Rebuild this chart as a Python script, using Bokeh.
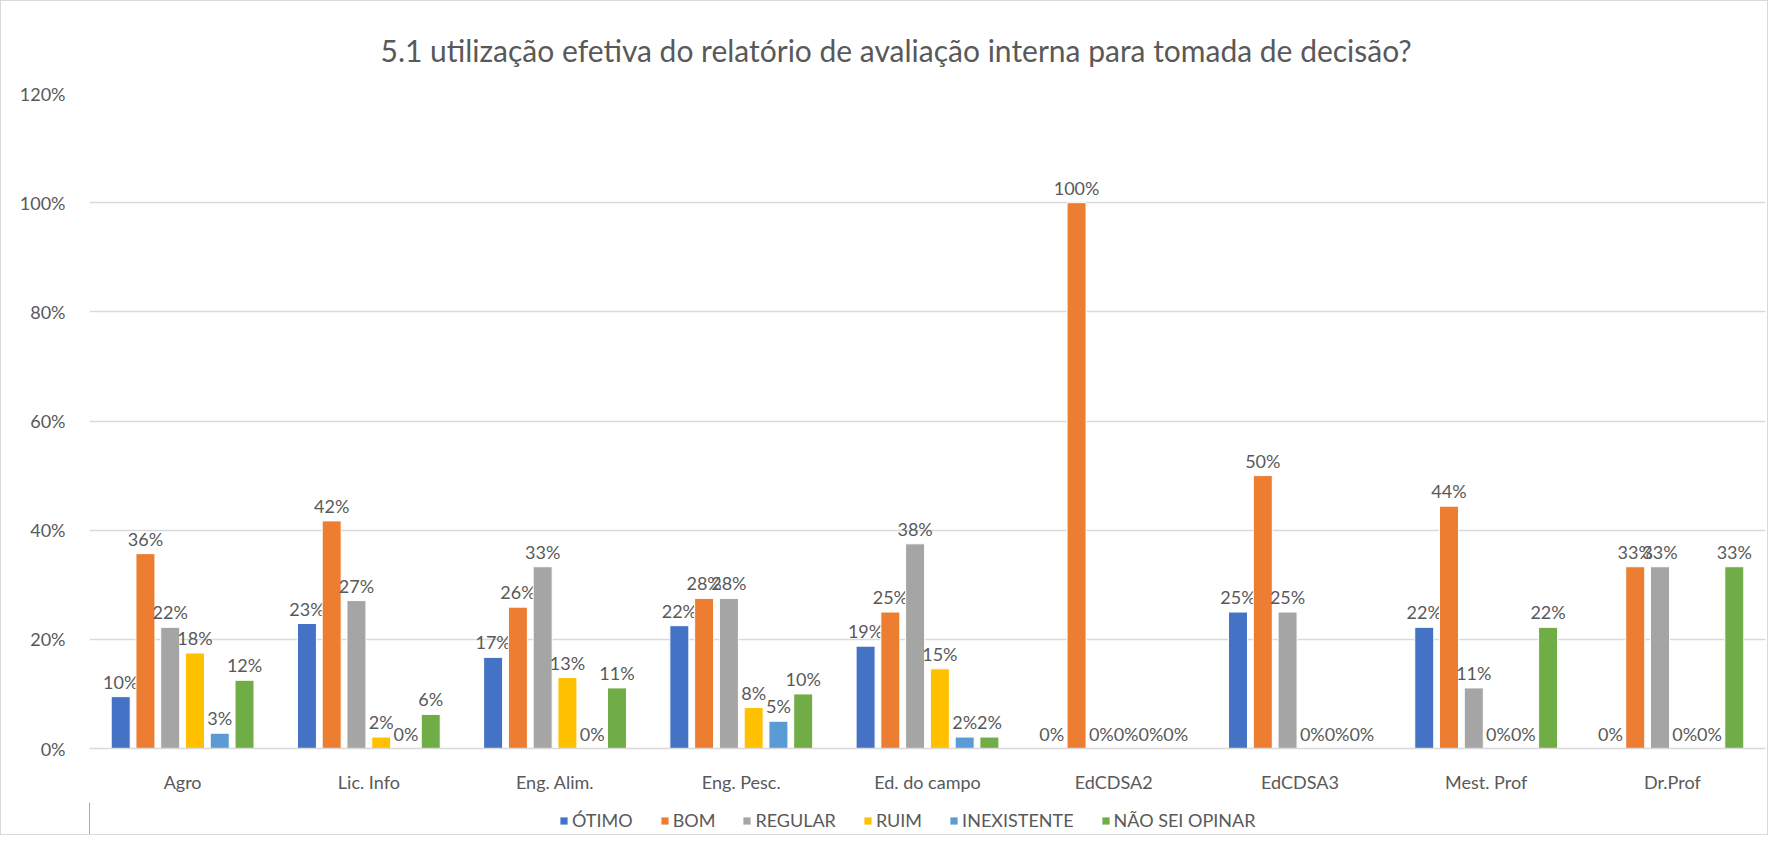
from bokeh.plotting import figure
from bokeh.layouts import column
from bokeh.models import (ColumnDataSource, FactorRange, Range1d, Legend, LegendItem,
                          NumeralTickFormatter, FixedTicker)
from bokeh.transform import dodge
from bokeh.core.properties import value
from bokeh.embed import file_html
from bokeh.resources import INLINE

title = "5.1 utilização efetiva do relatório de avaliação interna para tomada de decisão?"
categories = ["Agro", "Lic. Info", "Eng. Alim.", "Eng. Pesc.", "Ed. do campo",
              "EdCDSA2", "EdCDSA3", "Mest. Prof", "Dr.Prof"]
series = ["ÓTIMO", "BOM", "REGULAR", "RUIM", "INEXISTENTE", "NÃO SEI OPINAR"]
otimo = [0.095, 0.229, 0.167, 0.225, 0.1875, 0.0, 0.25, 0.222, 0.0]
bom = [0.357, 0.417, 0.259, 0.275, 0.25, 1.0, 0.5, 0.444, 0.333]
regular = [0.222, 0.271, 0.333, 0.275, 0.375, 0.0, 0.25, 0.111, 0.333]
ruim = [0.175, 0.021, 0.130, 0.075, 0.146, 0.0, 0.0, 0.0, 0.0]
inexistente = [0.028, 0.0, 0.0, 0.05, 0.021, 0.0, 0.0, 0.0, 0.0]
nao_sei = [0.125, 0.0625, 0.111, 0.10, 0.021, 0.0, 0.0, 0.222, 0.333]
y_ticks = [0.0, 0.2, 0.4, 0.6, 0.8, 1.0, 1.2]

colors = ["#4472C4", "#ED7D31", "#A5A5A5", "#FFC000", "#5B9BD5", "#70AD47"]
values = [otimo, bom, regular, ruim, inexistente, nao_sei]
FONT = value("Lato")
TXT = "#595959"

data = {"cat": categories}
for i, vals in enumerate(values):
    data[f"s{i}"] = vals
    data[f"l{i}"] = [f"{round(v * 100)}%" for v in vals]
src = ColumnDataSource(data)

p = figure(x_range=FactorRange(factors=categories, range_padding=0),
           y_range=Range1d(0, 1.2),
           frame_width=1676, frame_height=655, output_backend="svg", toolbar_location=None,
           min_border_left=88, min_border_right=2, min_border_top=92, min_border_bottom=54)

p.title.text = title
p.title.text_font = "Lato"
p.title.text_font_size = "30px"
p.title.text_font_style = "normal"
p.title.text_color = TXT
p.title.align = "left"
p.title.standoff = 52
p.title.offset = 291

step = 0.133
bw = 0.102
for i, name in enumerate(series):
    off = (i - 2.5) * step
    p.vbar(x=dodge("cat", off, range=p.x_range), top=f"s{i}", width=bw, source=src,
           fill_color=colors[i], line_color="white", line_width=1)
    p.text(x=dodge("cat", off, range=p.x_range), y=f"s{i}", text=f"l{i}", source=src,
           text_align="center", text_baseline="alphabetic", y_offset=-15,
           text_font=FONT, text_font_size="18px", text_color=TXT)

p.outline_line_color = None
p.xgrid.grid_line_color = None
p.ygrid.grid_line_color = "#D9D9D9"
p.ygrid.grid_line_width = 1.5

p.yaxis.ticker = FixedTicker(ticks=y_ticks)
p.yaxis.formatter = NumeralTickFormatter(format="0%")
p.yaxis.axis_line_color = None
p.yaxis.major_tick_line_color = None
p.yaxis.minor_tick_line_color = None
p.yaxis.major_label_standoff = 18
p.yaxis.major_label_text_font = "Lato"
p.yaxis.major_label_text_font_size = "18px"
p.yaxis.major_label_text_color = TXT

p.xaxis.axis_line_color = "#D9D9D9"
p.xaxis.axis_line_width = 1.5
p.xaxis.major_tick_line_color = None
p.xaxis.minor_tick_line_color = None
p.xaxis.major_label_standoff = 16
p.xaxis.major_label_text_font = "Lato"
p.xaxis.major_label_text_font_size = "18px"
p.xaxis.major_label_text_color = TXT

# legend strip (swatches drawn from the series colours; the dummy bars lie outside the view)
pl = figure(width=1766, height=32, x_range=Range1d(0, 1), y_range=Range1d(0, 1),
            output_backend="svg", toolbar_location=None,
            min_border=0, min_border_left=0, min_border_right=0,
            min_border_top=0, min_border_bottom=0)
pl.axis.visible = False
pl.axis.axis_line_color = None
pl.axis.major_tick_line_color = None
pl.axis.minor_tick_line_color = None
pl.grid.grid_line_color = None
pl.outline_line_color = None
hidden = ColumnDataSource({"x": [-5], "top": [1]})
items = []
for i, name in enumerate(series):
    r = pl.vbar(x="x", top="top", width=0.1, source=hidden,
                fill_color=colors[i], line_color=None)
    items.append(LegendItem(label=name, renderers=[r], index=0))
legend = Legend(items=items, orientation="horizontal", location=(470, 3),
                glyph_width=9, glyph_height=9, label_standoff=4, spacing=27,
                label_text_font="Lato", label_text_font_size="18px", label_text_color=TXT,
                border_line_color=None, background_fill_alpha=0, padding=0, margin=0)
pl.add_layout(legend, "center")

layout = column(p, pl, spacing=0)
layout.styles = {"border": "1px solid #D9D9D9"}

open("out.html", "w").write(file_html(layout, INLINE))
